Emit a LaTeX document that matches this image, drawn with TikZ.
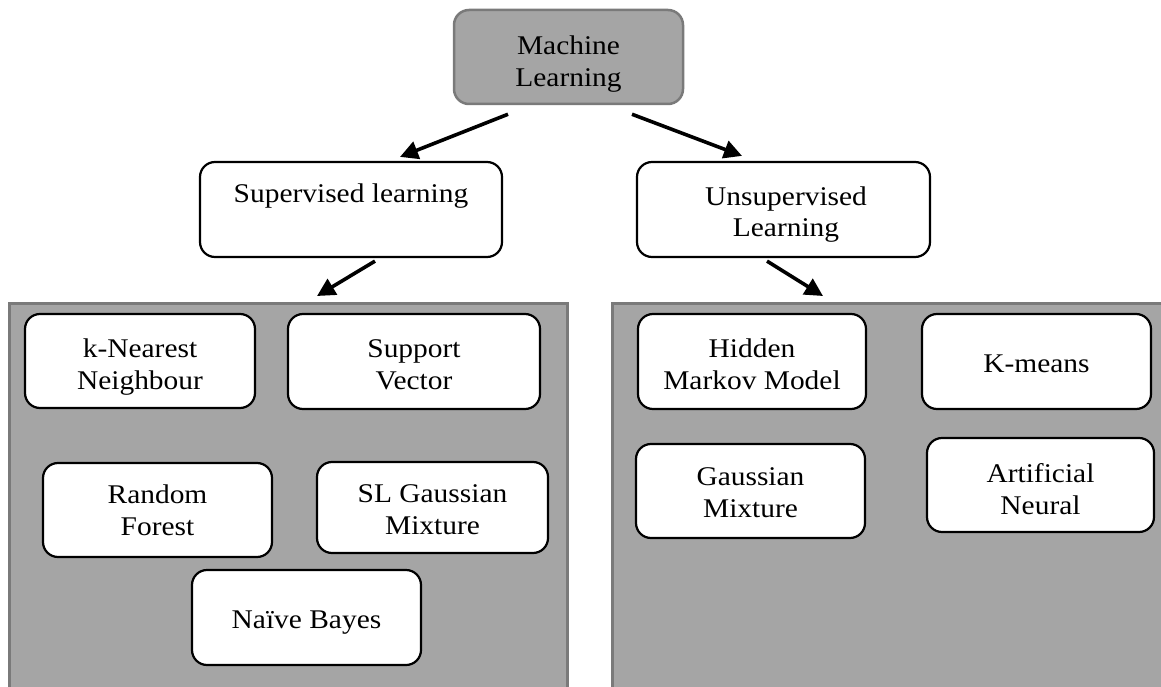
\documentclass[tikz,border=0pt]{standalone}
\usepackage{fontspec}
\setmainfont{Liberation Serif}
\usepackage{graphicx}
\usetikzlibrary{calc,arrows.meta}
\definecolor{panelgray}{HTML}{A5A5A5}
\definecolor{edgegray}{HTML}{7A7A7A}
\newcommand\tb[1]{\scalebox{1.09}[1]{\begin{tabular}[t]{@{}c@{}}#1\end{tabular}}}
\tikzset{
  panel/.style={draw=edgegray, line width=2.5pt, fill=panelgray, rectangle, anchor=north west, inner sep=0pt},
  box/.style={draw=black, line width=2.2pt, fill=white, rounded corners=15pt, rectangle, inner sep=0pt},
  topbox/.style={draw=edgegray, line width=2.5pt, fill=panelgray, rounded corners=15pt, rectangle, inner sep=0pt},
  txt/.style={anchor=base, inner sep=0pt, font=\fontsize{27}{32}\selectfont},
  arr/.style={line width=3.6pt, -{Triangle[length=18pt,width=18pt]}},
}
\begin{document}
\begin{tikzpicture}[x=1pt,y=-1pt]
\useasboundingbox (0,0) rectangle (1161,687);
\clip (0,0) rectangle (1161,687);
\fill[white] (0,0) rectangle (1161,687);
% panels
\node[panel, minimum width=558pt, minimum height=420pt] (lp) at (8,302) {};
\node[panel, minimum width=580pt, minimum height=420pt] (rp) at (611,302) {};
% top node
\node[topbox, minimum width=229pt, minimum height=94pt] (ml) at (568.5,57) {};
\node[txt] (mlt) at (568.5,55) {\tb{Machine\\Learning}};
% second level
\node[box, minimum width=302pt, minimum height=95pt] (sup) at (351,209.5) {};
\node[txt] (supt) at (351,203) {\tb{Supervised learning}};
\node[box, minimum width=293pt, minimum height=95pt] (uns) at (783.5,209.5) {};
\node[txt] (unst) at (786,205) {\tb{Unsupervised\\Learning}};
% left panel boxes
\node[box, minimum width=230pt, minimum height=94pt] (knn) at (140,361) {};
\node[txt] (knnt) at (140,357) {\tb{k-Nearest\\Neighbour}};
\node[box, minimum width=252pt, minimum height=95pt] (sv) at (414,361.5) {};
\node[txt] (svt) at (414,357) {\tb{Support\\Vector}};
\node[box, minimum width=229pt, minimum height=94pt] (rf) at (157.5,510) {};
\node[txt] (rft) at (157.5,503) {\tb{Random\\Forest}};
\node[box, minimum width=231pt, minimum height=91pt] (slg) at (432.5,507.5) {};
\node[txt] (slgt) at (432.5,502) {\tb{SL Gaussian\\Mixture}};
\node[box, minimum width=229pt, minimum height=95pt] (nb) at (306.5,617.5) {};
\node[txt] (nbt) at (306.5,628) {\tb{Naïve Bayes}};
% right panel boxes
\node[box, minimum width=228pt, minimum height=95pt] (hmm) at (752,361.5) {};
\node[txt] (hmmt) at (752,357) {\tb{Hidden\\Markov Model}};
\node[box, minimum width=229pt, minimum height=95pt] (km) at (1036.5,361.5) {};
\node[txt] (kmt) at (1036.5,372) {\tb{K-means}};
\node[box, minimum width=229pt, minimum height=94pt] (gm) at (750.5,491) {};
\node[txt] (gmt) at (750.5,485) {\tb{Gaussian\\Mixture}};
\node[box, minimum width=227pt, minimum height=94pt] (an) at (1040.5,485) {};
\node[txt] (ant) at (1040.5,482) {\tb{Artificial\\Neural}};
% arrows
\coordinate (a1s) at ($(ml.south)+(-60.5,9)$);
\coordinate (a1e) at ($(sup.north)+(49,-4)$);
\coordinate (a2s) at ($(ml.south)+(63.5,9)$);
\coordinate (a2e) at ($(uns.north)+(-41.5,-5)$);
\coordinate (a3s) at ($(sup.south)+(24,3)$);
\coordinate (a3e) at ($(lp.north west)+(309,-6)$);
\coordinate (a4s) at ($(uns.south)+(-16.5,3)$);
\coordinate (a4e) at ($(rp.north west)+(212,-6)$);
\draw[arr] (a1s) -- (a1e);
\draw[arr] (a2s) -- (a2e);
\draw[arr] (a3s) -- (a3e);
\draw[arr] (a4s) -- (a4e);
\end{tikzpicture}
\end{document}
